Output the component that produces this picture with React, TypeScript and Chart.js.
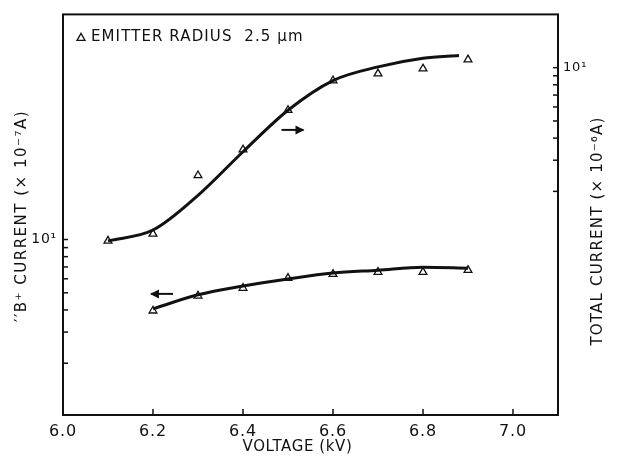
import React, { useEffect, useRef } from "react";
import { Chart, registerables } from "chart.js";

Chart.register(...registerables);

// Measured points (triangles)
const voltsTotal = [6.1, 6.2, 6.3, 6.4, 6.5, 6.6, 6.7, 6.8, 6.9];
const totalCurrent = [1.05, 1.15, 2.46, 3.44, 5.75, 8.46, 9.25, 9.87, 11.1];
const voltsB = [6.2, 6.3, 6.4, 6.5, 6.6, 6.7, 6.8, 6.9];
const bCurrent = [3.96, 4.81, 5.32, 6.05, 6.37, 6.54, 6.54, 6.71];

// Hand-drawn fitted curves
const fitTotalVolts = [6.1, 6.2, 6.3, 6.4, 6.5, 6.6, 6.7, 6.8, 6.88];
const fitTotal = [1.05, 1.21, 1.9, 3.35, 5.75, 8.46, 10.1, 11.3, 11.7];
const fitBVolts = [6.2, 6.3, 6.4, 6.5, 6.6, 6.7, 6.8, 6.9];
const fitB = [4.06, 4.87, 5.46, 5.98, 6.46, 6.71, 6.98, 6.89];

// Axis ticks
const xTickValues = [6.0, 6.2, 6.4, 6.6, 6.8, 7.0];
const logTickValues = [2, 3, 4, 5, 6, 7, 8, 9, 10];

// Arrow annotations (data coords): which axis, direction
const arrowVolts = [6.51, 6.22];
const arrowValues = [4.45, 4.93];
const arrowAxes = ["yR", "yL"];
const arrowDirs = [1, -1];

const legendText = "EMITTER RADIUS  2.5 \u03bcm";
const xTitle = "VOLTAGE (kV)";
const yLeftTitle = "\u2032\u2032B\u207a CURRENT (\u00d7 10\u207b\u2077A)";
const yRightTitle = "TOTAL CURRENT (\u00d7 10\u207b\u2076A)";

const FONT = "'DejaVu Sans', sans-serif";

const pts = (xs: number[], ys: number[]) => xs.map((x, i) => ({ x, y: ys[i] }));

const spacingPlugin = {
  id: "spacing",
  beforeDraw(chart: any) {
    chart.ctx.letterSpacing = "0.8px";
  },
};

const decorPlugin = {
  id: "decor",
  afterDraw(chart: any) {
    const ctx = chart.ctx;
    const a = chart.chartArea;
    const xs = chart.scales.x;
    const yl = chart.scales.yL;
    const yr = chart.scales.yR;
    ctx.save();
    ctx.strokeStyle = "#111";
    ctx.fillStyle = "#111";
    // frame
    ctx.lineWidth = 2;
    ctx.strokeRect(a.left, a.top, a.right - a.left, a.bottom - a.top);
    // inward ticks
    ctx.lineWidth = 1.5;
    xTickValues.forEach((v) => {
      if (v <= 6.0) return;
      const px = xs.getPixelForValue(v);
      ctx.beginPath();
      ctx.moveTo(px, a.bottom);
      ctx.lineTo(px, a.bottom - 6);
      ctx.stroke();
    });
    logTickValues.forEach((v) => {
      const pl = yl.getPixelForValue(v);
      ctx.beginPath();
      ctx.moveTo(a.left, pl);
      ctx.lineTo(a.left + 5, pl);
      ctx.stroke();
      const pr = yr.getPixelForValue(v);
      ctx.beginPath();
      ctx.moveTo(a.right, pr);
      ctx.lineTo(a.right - 5, pr);
      ctx.stroke();
    });
    // arrows
    arrowVolts.forEach((v, i) => {
      const sc = arrowAxes[i] === "yR" ? yr : yl;
      const cx = xs.getPixelForValue(v);
      const cy = sc.getPixelForValue(arrowValues[i]);
      const d = arrowDirs[i];
      const half = 11;
      ctx.lineWidth = 2;
      ctx.beginPath();
      ctx.moveTo(cx - d * half, cy);
      ctx.lineTo(cx + d * half, cy);
      ctx.stroke();
      ctx.beginPath();
      ctx.moveTo(cx + d * (half + 1), cy);
      ctx.lineTo(cx + d * (half - 8), cy - 4.5);
      ctx.lineTo(cx + d * (half - 8), cy + 4.5);
      ctx.closePath();
      ctx.fill();
    });
    // legend
    const lx = a.left + 18;
    const ly = a.top + 23;
    ctx.lineWidth = 1.3;
    ctx.beginPath();
    ctx.moveTo(lx, ly - 4);
    ctx.lineTo(lx + 4, ly + 3);
    ctx.lineTo(lx - 4, ly + 3);
    ctx.closePath();
    ctx.stroke();
    ctx.font = `15px ${FONT}`;
    ctx.letterSpacing = "1.1px";
    ctx.textBaseline = "middle";
    ctx.textAlign = "left";
    ctx.fillText(legendText, lx + 10, ly);
    // titles
    ctx.textAlign = "center";
    ctx.letterSpacing = "0.6px";
    ctx.font = `15px ${FONT}`;
    ctx.fillText(xTitle, (a.left + a.right) / 2 - 13, 447);
    ctx.letterSpacing = "1.5px";
    ctx.save();
    ctx.translate(22, 216);
    ctx.rotate(-Math.PI / 2);
    ctx.fillText(yLeftTitle, 0, 0);
    ctx.restore();
    ctx.letterSpacing = "1.2px";
    ctx.save();
    ctx.translate(598, 231);
    ctx.rotate(-Math.PI / 2);
    ctx.fillText(yRightTitle, 0, 0);
    ctx.restore();
    ctx.restore();
  },
};

export default function App() {
  const ref = useRef<HTMLCanvasElement>(null);
  useEffect(() => {
    if (!ref.current) return;
    const lineCommon = {
      borderColor: "#111",
      borderWidth: 3,
      pointRadius: 0,
      showLine: true,
      cubicInterpolationMode: "monotone" as const,
      fill: false,
    };
    const markCommon = {
      showLine: false,
      pointStyle: "triangle",
      pointRadius: 4.5,
      pointBorderWidth: 1.3,
      pointBorderColor: "#111",
      pointBackgroundColor: "#fff",
    };
    const chart = new Chart(ref.current, {
      type: "scatter",
      data: {
        datasets: [
          { ...lineCommon, data: pts(fitTotalVolts, fitTotal), yAxisID: "yR" },
          { ...lineCommon, data: pts(fitBVolts, fitB), yAxisID: "yL" },
          { ...markCommon, data: pts(voltsTotal, totalCurrent), yAxisID: "yR" },
          { ...markCommon, data: pts(voltsB, bCurrent), yAxisID: "yL" },
        ] as any,
      },
      options: {
        animation: false,
        responsive: false,
        layout: { padding: { top: 10, left: 0, right: 0, bottom: 0 } },
        plugins: { legend: { display: false }, tooltip: { enabled: false } },
        scales: {
          x: {
            type: "linear",
            min: 6.0,
            max: 7.1,
            grid: { display: false, drawTicks: false },
            border: { display: false },
            afterBuildTicks: (s: any) => {
              s.ticks = xTickValues.map((v) => ({ value: v }));
            },
            afterFit: (s: any) => {
              s.height = 46;
            },
            ticks: {
              padding: 7,
              color: "#111",
              font: { family: FONT, size: 16 },
              maxRotation: 0,
              autoSkip: false,
              callback: (v: any) => Number(v).toFixed(1),
            },
          },
          yL: {
            type: "logarithmic",
            position: "left",
            min: 1.02,
            max: 187,
            grid: { display: false, drawTicks: false },
            border: { display: false },
            afterBuildTicks: (s: any) => {
              s.ticks = logTickValues.map((v) => ({ value: v }));
            },
            afterFit: (s: any) => {
              s.width = 63;
            },
            ticks: {
              padding: 6,
              color: "#111",
              font: { family: FONT, size: 14 },
              autoSkip: false,
              callback: (v: any) => (Number(v) === 10 ? "10\u00b9" : ""),
            },
          },
          yR: {
            type: "logarithmic",
            position: "right",
            min: 0.109,
            max: 20,
            grid: { display: false, drawTicks: false },
            border: { display: false },
            afterBuildTicks: (s: any) => {
              s.ticks = logTickValues.map((v) => ({ value: v }));
            },
            afterFit: (s: any) => {
              s.width = 59;
            },
            ticks: {
              padding: 5,
              color: "#111",
              font: { family: FONT, size: 13 },
              autoSkip: false,
              callback: (v: any) => (Number(v) === 10 ? "10\u00b9" : ""),
            },
          },
        },
      } as any,
      plugins: [spacingPlugin, decorPlugin],
    });
    return () => chart.destroy();
  }, []);
  return (
    <div style={{ position: "absolute", left: 0, top: 0, width: 617, height: 461, background: "#fff" }}>
      <canvas ref={ref} width={617} height={461} />
    </div>
  );
}
